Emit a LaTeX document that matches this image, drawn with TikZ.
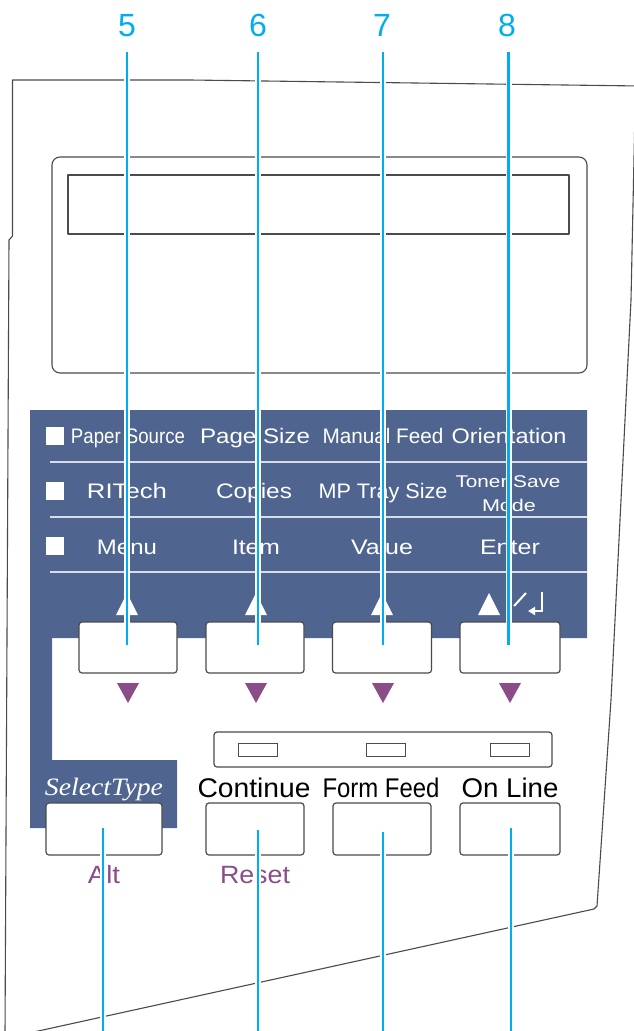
\documentclass[tikz,border=0pt]{standalone}
\usepackage{fontspec}
\setmainfont{Liberation Sans}
\newfontfamily\seriffam{Liberation Serif}
\usepackage{graphicx}
\usetikzlibrary{arrows.meta}
\definecolor{cyanline}{RGB}{0,174,239}
\definecolor{bandblue}{RGB}{79,101,144}
\definecolor{purp}{RGB}{140,76,136}
\definecolor{edge}{RGB}{75,75,75}
\definecolor{sepline}{RGB}{215,222,235}
\newcommand\fitw[2]{\resizebox{#1pt}{\height}{#2}}
\tikzset{
  frame/.style={draw=edge, line width=1.1pt, line join=round},
  btn/.style={draw=edge, fill=white, line width=1.2pt, rounded corners=3pt, inner sep=0pt},
  bandtxt/.style={text=white, inner sep=0pt, anchor=base, font=\fontsize{21}{21}\selectfont},
  smalltxt/.style={text=white, inner sep=0pt, anchor=base, font=\fontsize{17}{17}\selectfont},
  lowtxt/.style={text=black, inner sep=0pt, anchor=base, font=\fontsize{27}{27}\selectfont},
  purptxt/.style={text=purp, inner sep=0pt, anchor=base, font=\fontsize{25}{25}\selectfont},
  numtxt/.style={text=cyanline, inner sep=0pt, anchor=base, font=\fontsize{32}{32}\selectfont},
  sq/.style={fill=white, draw=none, minimum size=18pt, inner sep=0pt},
  uptri/.style={fill=white, draw=none},
  dntri/.style={fill=purp, draw=none},
  leader/.style={draw=cyanline, line width=2.5pt, preaction={draw=white, line width=6pt}},
  sepl/.style={draw=sepline, line width=1.3pt},
  led/.style={draw=edge, line width=1pt, fill=white, inner sep=0pt, minimum width=39pt, minimum height=13pt}
}
\begin{document}
\begin{tikzpicture}[x=1pt,y=-1pt]
\useasboundingbox (0,0) rectangle (633,1031);
\fill[white] (0,0) rectangle (633,1031);
% outer panel frame
\draw[frame] (5,1035) -- (9,240) -- (12.5,236) -- (12.5,80) -- (190,80) -- (640,86);
\draw[frame] (635,110) -- (631,300) -- (611,700) -- (597,906) -- (594,909) -- (20,1035);
% display
\draw[frame, rounded corners=8pt] (52,157) rectangle (587,373);
\draw[frame] (68,175) rectangle (569,234);
% blue band
\fill[bandblue] (30,410) -- (587,410) -- (587,638) -- (52,638) -- (52,760) -- (177,760) -- (177,828) -- (30,828) -- cycle;
\draw[sepl] (50,462) -- (587,462);
\draw[sepl] (50,517) -- (587,517);
\draw[sepl] (50,572) -- (587,572);
% row squares
\node[sq] (s1) at (55,436) {};
\node[sq] (s2) at (55,491) {};
\node[sq] (s3) at (55,546) {};
% row 1
\node[bandtxt] (ps) at (128,443) {\fitw{114}{Paper Source}};
\node[bandtxt] (pz) at (255,443) {\fitw{110}{Page Size}};
\node[bandtxt] (mf) at (383,443) {\fitw{121}{Manual Feed}};
\node[bandtxt] (or) at (509,443) {\fitw{115}{Orientation}};
% row 2
\node[bandtxt] (rt) at (127,498) {\fitw{80}{RITech}};
\node[bandtxt] (cp) at (254,498) {\fitw{76}{Copies}};
\node[bandtxt] (mp) at (383,498) {\fitw{129}{MP Tray Size}};
\node[smalltxt] (ts) at (508,487) {\fitw{105}{Toner Save}};
\node[smalltxt] (md) at (509,511) {\fitw{54}{Mode}};
% row 3
\node[bandtxt] (mn) at (127,554) {\fitw{60}{Menu}};
\node[bandtxt] (it) at (256,554) {\fitw{48}{Item}};
\node[bandtxt] (vl) at (382,554) {\fitw{62}{Value}};
\node[bandtxt] (en) at (510,554) {\fitw{60}{Enter}};
% up triangles
\fill[uptri] (116,615) -- (138,615) -- (127,593) -- cycle;
\fill[uptri] (245,615) -- (267,615) -- (256,593) -- cycle;
\fill[uptri] (371,615) -- (393,615) -- (382,593) -- cycle;
\fill[uptri] (478,615) -- (500,615) -- (489,593) -- cycle;
\draw[white, line width=2pt] (514,606) -- (526,593);
\draw[white, line width=2pt, -{Triangle[length=7pt,width=8pt]}] (542,592) -- (542,611) -- (528,611);
% upper buttons
\node[btn, minimum width=98pt, minimum height=51pt] (b5) at (128,647.5) {};
\node[btn, minimum width=98pt, minimum height=51pt] (b6) at (255,647.5) {};
\node[btn, minimum width=99pt, minimum height=51pt] (b7) at (382,647.5) {};
\node[btn, minimum width=100pt, minimum height=51pt] (b8) at (510,647.5) {};
% down triangles
\fill[dntri] (117,683) -- (139,683) -- (128,703) -- cycle;
\fill[dntri] (245,683) -- (267,683) -- (256,703) -- cycle;
\fill[dntri] (372,683) -- (394,683) -- (383,703) -- cycle;
\fill[dntri] (499,683) -- (521,683) -- (510,703) -- cycle;
% LED bar
\node[draw=edge, line width=1.2pt, rounded corners=3pt, fill=white, minimum width=338pt, minimum height=35pt, inner sep=0pt] (bar) at (383,749.5) {};
\node[led] (l1) at (257.5,749.5) {};
\node[led] (l2) at (385.5,749.5) {};
\node[led] (l3) at (510,749.5) {};
% lower labels
\node[text=white, inner sep=0pt, anchor=base, font=\seriffam\itshape\fontsize{25}{25}\selectfont] (st) at (104,795) {\fitw{118}{SelectType}};
\node[lowtxt] (ct) at (254,797) {\fitw{113}{Continue}};
\node[lowtxt] (ff) at (381,797) {\fitw{117}{Form Feed}};
\node[lowtxt] (ol) at (510,797) {\fitw{97}{On Line}};
% lower buttons
\node[btn, minimum width=116pt, minimum height=52pt] (ba) at (104,829) {};
\node[btn, minimum width=98pt, minimum height=52pt] (bc) at (255,829) {};
\node[btn, minimum width=98pt, minimum height=52pt] (bf) at (382,829) {};
\node[btn, minimum width=100pt, minimum height=52pt] (bo) at (510,829) {};
\node[purptxt] (alt) at (104,883) {\fitw{32}{Alt}};
\node[purptxt] (rs) at (255,883) {\fitw{70}{Reset}};
% numbers
\node[numtxt] (n5) at (127,36) {5};
\node[numtxt] (n6) at (258,36) {6};
\node[numtxt] (n7) at (382,36) {7};
\node[numtxt] (n8) at (507,36) {8};
\coordinate (t5) at (127,52);
\coordinate (t6) at (258,52);
\coordinate (t7) at (383,52);
\coordinate (t8) at (508.5,52);
\coordinate (e5) at (127,645);
\coordinate (e6) at (258,645);
\coordinate (e7) at (383,645);
\coordinate (e8) at (508.5,645);
\coordinate (ea) at (103,828);
\coordinate (ec) at (258,830);
\coordinate (ef) at (383,832);
\coordinate (eo) at (511,828);
\coordinate (za) at (103,1035);
\coordinate (zc) at (258,1035);
\coordinate (zf) at (383,1035);
\coordinate (zo) at (511,1035);
% leader lines
\draw[leader] (t5) -- (e5);
\draw[leader] (t6) -- (e6);
\draw[leader] (t7) -- (e7);
\draw[leader] (t8) -- (e8);
\draw[leader] (ea) -- (za);
\draw[leader] (ec) -- (zc);
\draw[leader] (ef) -- (zf);
\draw[leader] (eo) -- (zo);
\end{tikzpicture}
\end{document}
